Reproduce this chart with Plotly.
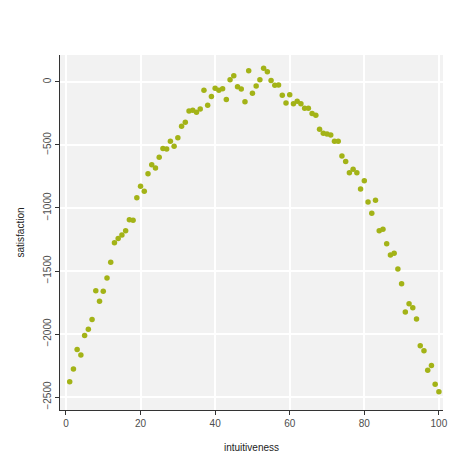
import plotly.graph_objects as go

intuitiveness = list(range(1, 101))
satisfaction = [
    -2378, -2278, -2122, -2167, -2011, -1963, -1884, -1656, -1741, -1661,
    -1556, -1431, -1275, -1243, -1214, -1180, -1093, -1098, -918, -828,
    -868, -728, -656, -683, -598, -527, -532, -471, -511, -442,
    -352, -320, -230, -225, -241, -214, -66, -185, -116, -50,
    -66, -53, -140, 18, 50, -37, -56, -156, 90, -90,
    -32, 18, 108, 82, 11, -26, -24, -106, -167, -101,
    -172, -153, -172, -209, -209, -251, -265, -376, -407, -413,
    -421, -471, -471, -587, -632, -720, -693, -720, -849, -783,
    -952, -1042, -939, -1180, -1169, -1283, -1373, -1360, -1484, -1601,
    -1825, -1759, -1791, -1881, -2093, -2133, -2288, -2249, -2399, -2458,
]

fig = go.Figure(go.Scatter(
    x=intuitiveness, y=satisfaction, mode="markers",
    marker=dict(color="#a3b317", size=5.5),
))

axis_common = dict(
    showgrid=True, gridcolor="white", gridwidth=1.5, zeroline=False,
    showline=True, linecolor="#333333", linewidth=1,
    ticks="outside", ticklen=4, tickcolor="#333333",
    tickfont=dict(family="Liberation Sans, Arial", size=10, color="#4d4d4d"),
    title_font=dict(family="Liberation Sans, Arial", size=10, color="#222222"),
)
fig.update_xaxes(title_text="intuitiveness", range=[-1.6, 101.1],
                 tickvals=[0, 20, 40, 60, 80, 100], **axis_common)
fig.update_yaxes(title_text="satisfaction", range=[-2603, 214],
                 tickvals=[0, -500, -1000, -1500, -2000, -2500],
                 tickangle=-90, **axis_common)
# page body adds 8px, so margins are shifted to compensate
fig.update_layout(
    width=474, height=474,
    margin=dict(l=49, r=39, t=47, b=72),
    plot_bgcolor="#f2f2f2", paper_bgcolor="white",
    showlegend=False,
)
fig.write_html("out.html")
